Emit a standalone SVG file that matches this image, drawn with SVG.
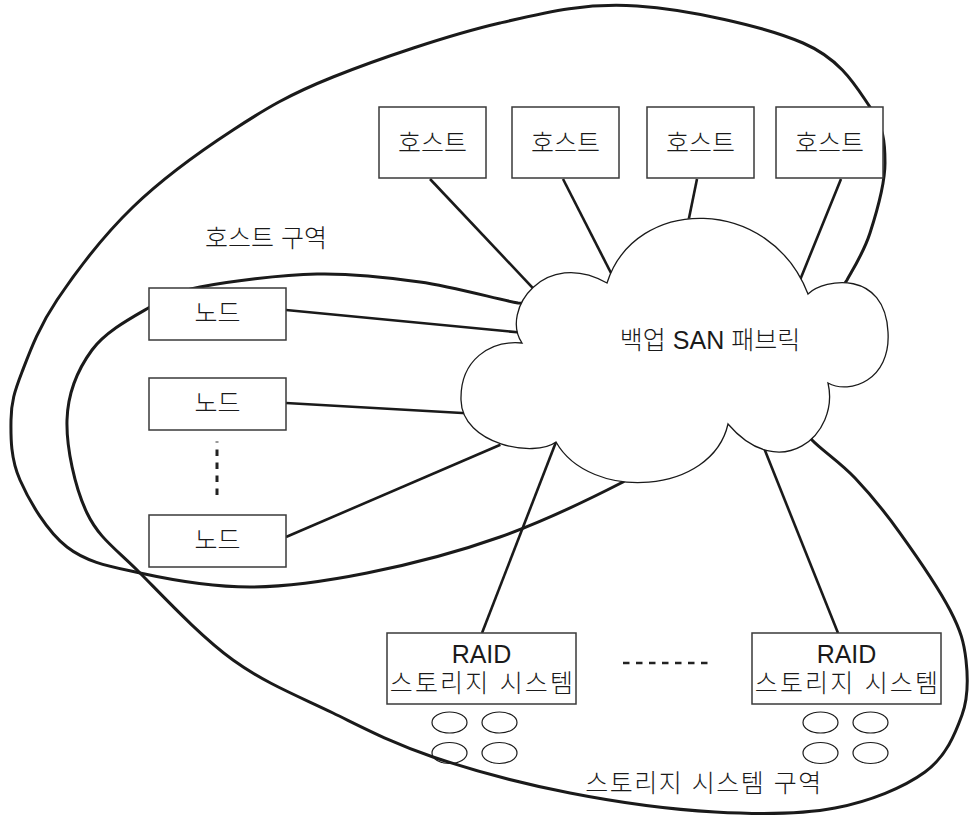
<svg xmlns="http://www.w3.org/2000/svg" width="970" height="816" viewBox="0 0 970 816">
<style>
.zone{fill:none;stroke:#1a1a1a;stroke-width:3}
.conn{fill:none;stroke:#1a1a1a;stroke-width:2.6}
.box{fill:#fff;stroke:#3a3a3a;stroke-width:1.5}
.cloud{fill:#fff;stroke:#1a1a1a;stroke-width:1.3}
.disk{fill:none;stroke:#1a1a1a;stroke-width:1.2}
.t{font-family:"Liberation Sans","Noto Sans CJK KR",sans-serif;font-size:25px;font-weight:300;fill:#1a1a1a;text-anchor:middle}
.wide{letter-spacing:2.2px}
</style>
<rect width="970" height="816" fill="#fff"/>
<g id="zones">
<path id="host-zone" class="zone" d="M660,455 L623,482 C596.3,495.7 542.7,521.8 500,537 C457.3,552.2 408.7,564.7 367,573 C325.3,581.3 287.8,587 250,587 C212.2,587 170.5,579.7 140,573 C109.5,566.3 87,562.5 67,547 C47,531.5 29.3,501.2 20,480 C10.7,458.8 10.7,438 11,420 C11.3,402 14.3,392 22,372 C29.7,352 38.5,327.5 57,300 C75.5,272.5 103.7,235.3 133,207 C162.3,178.7 199.7,151.7 233,130 C266.3,108.3 288.5,94.8 333,77 C377.5,59.2 449.3,34.8 500,23 C550.7,11.2 586.5,2.7 637,6 C687.5,9.3 764.2,26.2 803,43 C841.8,59.8 856.3,87 870,107 C883.7,127 885,142 885,163 C885,184 876.3,213.5 870,233 C863.7,252.5 853.7,268 847,280 L830,305"/>
<path id="storage-zone" class="zone" d="M540,304 L518,303 C497.2,299.2 453.5,286.8 420,282 C386.5,277.2 353.7,273.2 317,274 C280.3,274.8 227.8,281.5 200,287 C172.2,292.5 168,296.5 150,307 C132,317.5 105.8,331.2 92,350 C78.2,368.8 67.8,392.8 67,420 C66.2,447.2 74.8,487.5 87,513 C99.2,538.5 115.7,548.5 140,573 C164.3,597.5 200.8,636.7 233,660 C265.2,683.3 299.7,696.8 333,713 C366.3,729.2 393.5,743.7 433,757 C472.5,770.3 523,783.8 570,793 C617,802.2 670.8,809.5 715,812 C759.2,814.5 800,814.7 835,808 C870,801.3 903.8,787.5 925,772 C946.2,756.5 955.2,733.7 962,715 C968.8,696.3 968,677.5 966,660 C964,642.5 961,631.2 950,610 C939,588.8 915.8,555 900,533 C884.2,511 869.7,493.5 855,478 C840.3,462.5 821.2,449.7 812,440 L800,420"/>
</g>
<g id="connectors">
<line class="conn" x1="430" y1="179" x2="535.5" y2="290.8"/>
<line class="conn" x1="563" y1="179" x2="615.6" y2="282"/>
<line class="conn" x1="697" y1="179" x2="687.4" y2="226"/>
<line class="conn" x1="841" y1="179" x2="797" y2="287.4"/>
<line class="conn" x1="286" y1="310" x2="523" y2="332.8"/>
<line class="conn" x1="286" y1="403" x2="471" y2="413.5"/>
<line class="conn" x1="286" y1="537" x2="500.4" y2="444.8"/>
<line class="conn" x1="482" y1="633" x2="558.9" y2="434.5"/>
<line class="conn" x1="838" y1="633" x2="763" y2="445.6"/>
</g>
<g id="fabric">
<path class="cloud" d="M522,343 C500,310 545,248 607,283 C635,195 770,195 808,294 C825,278 885,270 888,332 C891,380 850,395 828,383 C840,435 780,485 728,424 C712,495 590,502 556,442 C535,458 462,445 461,400 C460,360 490,340 522,343 Z"/>
<text class="t" x="710" y="349">백업 SAN 패브릭</text>
</g>
<g id="host1"><rect class="box" x="379" y="107" width="107" height="71"/><text class="t" x="432.5" y="151.5">호스트</text></g>
<g id="host2"><rect class="box" x="512" y="107" width="107" height="71"/><text class="t" x="565.5" y="151.5">호스트</text></g>
<g id="host3"><rect class="box" x="647" y="107" width="107" height="71"/><text class="t" x="700.5" y="151.5">호스트</text></g>
<g id="host4"><rect class="box" x="776" y="107" width="107" height="71"/><text class="t" x="829.5" y="151.5">호스트</text></g>
<g id="node1"><rect class="box" x="149" y="288" width="137" height="52"/><text class="t" x="217.5" y="321.5">노드</text></g>
<g id="node2"><rect class="box" x="149" y="378" width="137" height="52"/><text class="t" x="217.5" y="411.5">노드</text></g>
<g id="node-ellipsis">
<line x1="217" y1="441" x2="217" y2="443" stroke="#999" stroke-width="3"/>
<line x1="217" y1="449.5" x2="217" y2="495" stroke="#222" stroke-width="3" stroke-dasharray="6.5 6.5"/>
</g>
<g id="node3"><rect class="box" x="149" y="515" width="137" height="52"/><text class="t" x="217.5" y="548.5">노드</text></g>
<g id="raid1">
<rect class="box" x="387" y="633" width="189" height="71"/>
<text class="t" x="481.5" y="662.5">RAID</text>
<text class="t wide" x="482.5" y="691.5">스토리지 시스템</text>
<ellipse class="disk" cx="449.5" cy="722.5" rx="17.5" ry="10.5"/>
<ellipse class="disk" cx="499.5" cy="722.5" rx="17.5" ry="10.5"/>
<ellipse class="disk" cx="449.5" cy="753" rx="17.5" ry="10.5"/>
<ellipse class="disk" cx="499.5" cy="753" rx="17.5" ry="10.5"/>
</g>
<g id="raid-ellipsis"><line x1="623" y1="663" x2="708" y2="663" stroke="#222" stroke-width="2.5" stroke-dasharray="6.5 6.5"/></g>
<g id="raid2">
<rect class="box" x="752" y="633" width="189" height="71"/>
<text class="t" x="846.5" y="662.5">RAID</text>
<text class="t wide" x="847.5" y="691.5">스토리지 시스템</text>
<ellipse class="disk" cx="820.5" cy="722.5" rx="17.5" ry="10.5"/>
<ellipse class="disk" cx="870.5" cy="722.5" rx="17.5" ry="10.5"/>
<ellipse class="disk" cx="820.5" cy="753" rx="17.5" ry="10.5"/>
<ellipse class="disk" cx="870.5" cy="753" rx="17.5" ry="10.5"/>
</g>
<g id="labels">
<text class="t" x="266" y="246.5">호스트 구역</text>
<text class="t" x="704" y="791.5" style="letter-spacing:1.5px">스토리지 시스템 구역</text>
</g>
</svg>
